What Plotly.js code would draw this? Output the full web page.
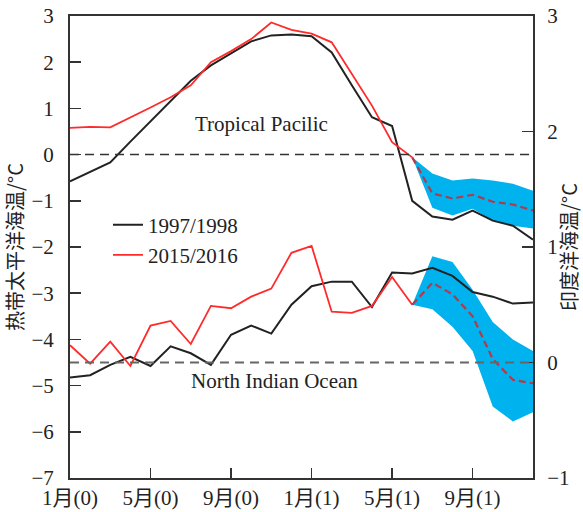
<!DOCTYPE html>
<html><head><meta charset="utf-8">
<script src="https://cdn.plot.ly/plotly-3.0.1.min.js"></script>
<style>html,body{margin:0;padding:0;background:#fff;} #chart{width:583px;height:512px;}</style>
</head><body><div id="chart"></div>
<script>
// ---- data ----
const months = [0,1,2,3,4,5,6,7,8,9,10,11,12,13,14,15,16,17,18,19,20,21,22,23];
const obsMonths = [0,1,2,3,4,5,6,7,8,9,10,11,12,13,14,15,16,17];
const fcstMonths = [17,18,19,20,21,22,23];
const tickVals = [0,4,8,12,16,20];
const tickText = ['1月(0)','5月(0)','9月(0)','1月(1)','5月(1)','9月(1)'];

// Tropical Pacific (left axis)
const tp9798 = [-0.58,-0.37,-0.17,0.28,0.72,1.16,1.6,1.93,2.19,2.45,2.58,2.6,2.56,2.21,1.5,0.81,0.62,-1.0,-1.34,-1.41,-1.21,-1.43,-1.54,-1.84];
const tp1516 = [0.58,0.6,0.59,0.8,1.02,1.24,1.5,2.0,2.24,2.5,2.86,2.7,2.62,2.43,1.75,1.06,0.27,-0.06];
const tpFcst = [-0.06,-0.84,-0.95,-0.87,-1.02,-1.08,-1.21];
const tpHi = [-0.06,-0.41,-0.56,-0.52,-0.56,-0.63,-0.78];
const tpLo = [-0.06,-1.15,-1.32,-1.17,-1.43,-1.54,-1.6];

// North Indian Ocean (right axis)
const nio9798 = [-0.13,-0.11,-0.02,0.05,-0.03,0.14,0.08,-0.02,0.24,0.32,0.25,0.5,0.66,0.70,0.70,0.48,0.78,0.77,0.82,0.75,0.61,0.57,0.51,0.52];
const nio1516 = [0.15,-0.01,0.18,-0.03,0.32,0.36,0.16,0.49,0.47,0.57,0.64,0.95,1.01,0.44,0.43,0.49,0.74,0.5];
const nioFcst = [0.5,0.69,0.59,0.40,0.03,-0.15,-0.18];
const nioHi = [0.5,0.92,0.87,0.63,0.35,0.2,0.1];
const nioLo = [0.5,0.46,0.31,0.1,-0.38,-0.51,-0.43];

const labels = ['1997/1998','2015/2016'];
const regionLabels = ['Tropical Pacilic','North Indian Ocean'];
const yTitles = ['热带太平洋海温/°C','印度洋海温/°C'];

// ---- styles ----
const BLACK = '#222222', RED = '#ff2a2a', FC = '#b23a4a', BAND = '#00b2ee';
const SERIF = '"Liberation Serif","Times New Roman",serif';
const CJK = '"Noto Sans CJK SC","Liberation Serif",serif';
const MIX = '"Liberation Serif","Noto Sans CJK SC",serif';

const traces = [
  {x: fcstMonths, y: tpLo, yaxis:'y', mode:'lines', line:{width:0,color:BAND}, showlegend:false, hoverinfo:'skip'},
  {x: fcstMonths, y: tpHi, yaxis:'y', mode:'lines', line:{width:0,color:BAND}, fill:'tonexty', fillcolor:BAND, showlegend:false, hoverinfo:'skip'},
  {x: fcstMonths, y: nioLo, yaxis:'y2', mode:'lines', line:{width:0,color:BAND}, showlegend:false, hoverinfo:'skip'},
  {x: fcstMonths, y: nioHi, yaxis:'y2', mode:'lines', line:{width:0,color:BAND}, fill:'tonexty', fillcolor:BAND, showlegend:false, hoverinfo:'skip'},
  {x: months, y: tp9798, yaxis:'y', mode:'lines', name:labels[0], line:{color:BLACK,width:2}},
  {x: obsMonths, y: tp1516, yaxis:'y', mode:'lines', name:labels[1], line:{color:RED,width:1.8}},
  {x: months, y: nio9798, yaxis:'y2', mode:'lines', line:{color:BLACK,width:2}, showlegend:false},
  {x: obsMonths, y: nio1516, yaxis:'y2', mode:'lines', line:{color:RED,width:1.8}, showlegend:false},
  {x: fcstMonths, y: tpFcst, yaxis:'y', mode:'lines', line:{color:FC,width:2.2,dash:'7px,4px'}, showlegend:false},
  {x: fcstMonths, y: nioFcst, yaxis:'y2', mode:'lines', line:{color:FC,width:2.2,dash:'7px,4px'}, showlegend:false}
];

const axisCommon = {
  showgrid:false, zeroline:false, showline:true, linecolor:'#333', linewidth:2,
  ticks:'inside', tickcolor:'#333', tickwidth:1.5,
  tickfont:{family:MIX, size:21, color:'#222'}
};

const layout = {
  width:583, height:512,
  margin:{l:70, r:50, t:16, b:34},
  paper_bgcolor:'#fff', plot_bgcolor:'#fff',
  showlegend:true,
  legend:{x:0.082, y:0.592, xanchor:'left', yanchor:'top', bgcolor:'rgba(0,0,0,0)', traceorder:'normal',
          font:{family:SERIF, size:21, color:'#222'}, tracegroupgap:0},
  xaxis: Object.assign({}, axisCommon, {range:[0,23], tickvals:tickVals, ticktext:tickText, ticklen:10, mirror:true}),
  yaxis: Object.assign({}, axisCommon, {range:[-7,3], dtick:1, tick0:0, ticklen:11, mirror:true, ticklabelstandoff:10,
          title:{text:yTitles[0], font:{family:CJK, size:20, color:'#222'}, standoff:3}}),
  yaxis2: Object.assign({}, axisCommon, {range:[-1,3], dtick:1, tick0:0, ticklen:11, overlaying:'y', side:'right', ticklabelstandoff:8,
          title:{text:yTitles[1], font:{family:CJK, size:20, color:'#222'}, standoff:10}}),
  shapes:[
    {type:'line', xref:'paper', x0:0, x1:1, yref:'y', y0:0, y1:0, line:{color:'#333', width:1.5, dash:'9px,6px'}},
    {type:'line', xref:'paper', x0:0, x1:1, yref:'y2', y0:0, y1:0, line:{color:'#666', width:2, dash:'9px,6px'}}
  ],
  annotations:[
    {x:9.5, y:0.67, xref:'x', yref:'y', text:regionLabels[0], showarrow:false, font:{family:SERIF, size:21, color:'#222'}},
    {x:10.15, y:-4.91, xref:'x', yref:'y', text:regionLabels[1], showarrow:false, font:{family:SERIF, size:21, color:'#222'}}
  ]
};

Plotly.newPlot('chart', traces, layout, {displayModeBar:false, staticPlot:true});
</script>
</body></html>
